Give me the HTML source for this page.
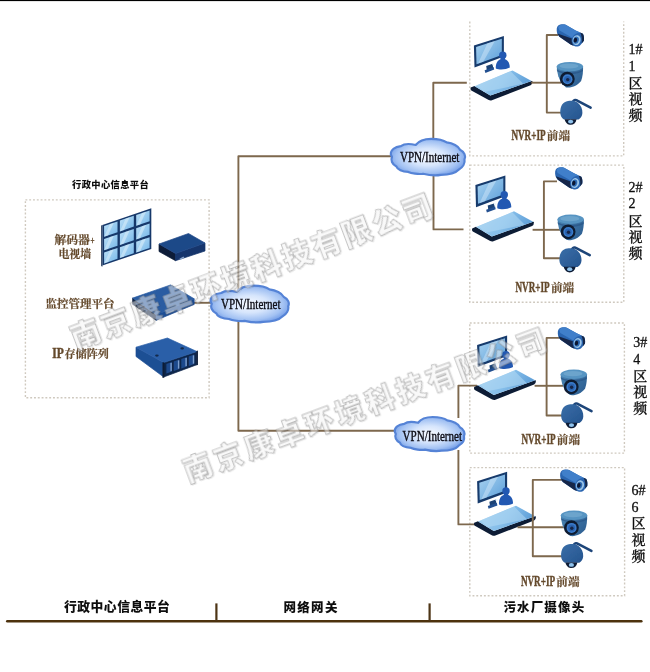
<!DOCTYPE html>
<html lang="zh-CN">
<head>
<meta charset="utf-8">
<title>视频监控系统拓扑图</title>
<style>
html,body{margin:0;padding:0;background:#fff;}
body{width:650px;height:672px;overflow:hidden;}
svg{display:block;}
.vl{font-family:"Liberation Serif","Noto Serif CJK SC",serif;font-size:14px;font-weight:500;fill:#111;stroke:#111;stroke-width:0.3px;}
.br{font-family:"Liberation Serif","Noto Serif CJK SC",serif;font-weight:700;fill:#64492c;stroke:#64492c;stroke-width:0.2px;}
.brl{font-family:"Liberation Serif",serif;font-weight:700;fill:#64492c;stroke:#64492c;stroke-width:0.45px;}
.kai{font-family:"Liberation Sans","Noto Sans CJK SC",sans-serif;font-weight:900;fill:#111;}
.hei{font-family:"Liberation Sans","Noto Sans CJK SC",sans-serif;font-weight:900;font-size:12.5px;fill:#111;}
.wm{font-family:"Liberation Sans","Noto Sans CJK SC",sans-serif;font-weight:900;fill:#ffffff;fill-opacity:0.45;stroke:#8c8c8c;stroke-opacity:0.55;stroke-width:0.9;}
</style>
</head>
<body>
<svg width="650" height="672" viewBox="0 0 650 672">
<defs>
<radialGradient id="cloudg" cx="50%" cy="50%" r="60%">
<stop offset="0" stop-color="#f7faff"/><stop offset="0.4" stop-color="#d6e5fc"/><stop offset="0.72" stop-color="#a3c2f3"/><stop offset="0.92" stop-color="#6f9ae6"/><stop offset="1" stop-color="#5a88dc"/>
</radialGradient>
<linearGradient id="screeng" x1="0" y1="0" x2="1" y2="1">
<stop offset="0" stop-color="#a9d3f1"/><stop offset="1" stop-color="#5c9fd9"/>
</linearGradient>
<linearGradient id="cellg" x1="0" y1="0" x2="1" y2="1">
<stop offset="0" stop-color="#bfe2f8"/><stop offset="1" stop-color="#74b6e8"/>
</linearGradient>
<linearGradient id="nvrg" x1="0" y1="0" x2="1" y2="0.3">
<stop offset="0" stop-color="#a5d1f1"/><stop offset="0.6" stop-color="#84bde9"/><stop offset="1" stop-color="#5f9fd8"/>
</linearGradient>
<linearGradient id="camg" x1="0" y1="0" x2="0.4" y2="1">
<stop offset="0" stop-color="#3c78b4"/><stop offset="1" stop-color="#1f4a82"/>
</linearGradient>
<linearGradient id="ptzg" x1="0" y1="0" x2="1" y2="1">
<stop offset="0" stop-color="#3a6ea8"/><stop offset="1" stop-color="#25548e"/>
</linearGradient>
<linearGradient id="domeg" x1="0" y1="0" x2="1" y2="0.6">
<stop offset="0" stop-color="#4a84b2"/><stop offset="1" stop-color="#2f6194"/>
</linearGradient>
<filter id="wmsh" x="-5%" y="-30%" width="110%" height="160%"><feDropShadow dx="0.8" dy="0.8" stdDeviation="0.7" flood-color="#000" flood-opacity="0.2"/></filter>
<filter id="soft" x="0" y="0" width="100%" height="100%" filterUnits="userSpaceOnUse"><feGaussianBlur stdDeviation="0.5"/></filter>
</defs>

<g filter="url(#soft)">
<rect x="0" y="0" width="650" height="672" fill="#ffffff"/>
<rect x="0" y="0" width="650" height="1.1" fill="#050505"/>
<rect x="25.4" y="199.9" width="183.7" height="197.9" fill="none" stroke="#cfc9bf" stroke-width="1.4" stroke-dasharray="1.9 1.9"/>
<polyline points="469.8,21.6 469.8,155.9 623.7,155.9 623.7,21.6" fill="none" stroke="#cfc9bf" stroke-width="1.4" stroke-dasharray="1.9 1.9"/>
<rect x="469.8" y="165.1" width="154.0" height="137.2" fill="none" stroke="#cfc9bf" stroke-width="1.4" stroke-dasharray="1.9 1.9"/>
<rect x="469.8" y="323.0" width="154.6" height="130.1" fill="none" stroke="#cfc9bf" stroke-width="1.4" stroke-dasharray="1.9 1.9"/>
<rect x="469.8" y="467.6" width="154.8" height="128.2" fill="none" stroke="#cfc9bf" stroke-width="1.4" stroke-dasharray="1.9 1.9"/>
<polyline points="238.4,290.0 238.4,156.2 391.0,156.2" fill="none" stroke="#7d674d" stroke-width="1.9" stroke-linejoin="round"/>
<polyline points="433.3,140.0 433.3,82.7 466.8,82.7" fill="none" stroke="#7d674d" stroke-width="1.9" stroke-linejoin="round"/>
<polyline points="433.5,174.0 433.5,229.4 463.5,229.4" fill="none" stroke="#7d674d" stroke-width="1.9" stroke-linejoin="round"/>
<polyline points="238.4,320.0 238.4,430.8 396.0,430.8" fill="none" stroke="#7d674d" stroke-width="1.9" stroke-linejoin="round"/>
<polyline points="458.4,418.0 458.4,385.6 477.0,385.6" fill="none" stroke="#7d674d" stroke-width="1.9" stroke-linejoin="round"/>
<polyline points="458.4,450.0 458.4,524.4 477.0,524.4" fill="none" stroke="#7d674d" stroke-width="1.9" stroke-linejoin="round"/>
<polyline points="194.0,302.8 212.0,302.8" fill="none" stroke="#7d674d" stroke-width="1.9" stroke-linejoin="round"/>
<polygon points="101.2,225.6 102.4,225.0 102.4,265.5 102.4,266.7 101.2,265.9" fill="#10294d" /><polygon points="102.4,225.0 151.3,208.3 151.3,249.0 102.4,265.5" fill="#18396b" /><polygon points="104.1,226.0 117.5,221.4 117.5,232.2 104.1,236.8" fill="url(#cellg)" /><polygon points="109.9,224.0 113.8,222.7 108.0,235.4 104.1,236.8" fill="#e4f3fc" opacity="0.5"/><polygon points="104.1,239.1 117.5,234.5 117.5,245.7 104.1,250.3" fill="url(#cellg)" /><polygon points="109.9,237.1 113.8,235.8 108.0,248.9 104.1,250.3" fill="#e4f3fc" opacity="0.5"/><polygon points="104.1,252.6 117.5,248.0 117.5,258.8 104.1,263.4" fill="url(#cellg)" /><polygon points="109.9,250.6 113.8,249.3 108.0,262.0 104.1,263.4" fill="#e4f3fc" opacity="0.5"/><polygon points="119.9,220.6 133.8,215.8 133.8,226.6 119.9,231.4" fill="url(#cellg)" /><polygon points="125.7,218.6 129.7,217.3 123.8,230.1 119.9,231.4" fill="#e4f3fc" opacity="0.5"/><polygon points="119.9,233.7 133.8,229.0 133.8,240.2 119.9,244.9" fill="url(#cellg)" /><polygon points="125.7,231.7 129.7,230.4 123.8,243.6 119.9,244.9" fill="#e4f3fc" opacity="0.5"/><polygon points="119.9,247.2 133.8,242.5 133.8,253.3 119.9,258.0" fill="url(#cellg)" /><polygon points="125.7,245.3 129.7,243.9 123.8,256.7 119.9,258.0" fill="#e4f3fc" opacity="0.5"/><polygon points="136.2,215.0 149.6,210.4 149.6,221.3 136.2,225.8" fill="url(#cellg)" /><polygon points="142.0,213.0 146.0,211.7 140.1,224.5 136.2,225.8" fill="#e4f3fc" opacity="0.5"/><polygon points="136.2,228.2 149.6,223.6 149.6,234.8 136.2,239.4" fill="url(#cellg)" /><polygon points="142.0,226.2 146.0,224.9 140.1,238.1 136.2,239.4" fill="#e4f3fc" opacity="0.5"/><polygon points="136.2,241.7 149.6,237.2 149.6,248.0 136.2,252.5" fill="url(#cellg)" /><polygon points="142.0,239.7 146.0,238.4 140.1,251.2 136.2,252.5" fill="#e4f3fc" opacity="0.5"/>
<polygon points="159.0,244.0 175.5,253.5 175.5,260.7 159.0,251.5" fill="#0b1b38" stroke="#0b1b38" stroke-width="0.7" stroke-linejoin="round"/><polygon points="175.5,253.5 205.0,243.0 205.0,251.0 175.5,260.7" fill="#15356c" stroke="#15356c" stroke-width="0.7" stroke-linejoin="round"/><polygon points="159.0,244.0 188.5,233.5 205.0,243.0 175.5,253.5" fill="#1f4888" stroke="#1f4888" stroke-width="0.7" stroke-linejoin="round"/>
<rect x="179.5" y="257.6" width="4.6" height="1.3" fill="#8fa9cc" transform="rotate(-30 181.8 258.2)"/>
<polygon points="132.6,298.1 156.2,314.7 156.2,320.3 132.6,304.3" fill="#0d2040" stroke="#0d2040" stroke-width="0.7" stroke-linejoin="round"/><polygon points="156.2,314.7 194.2,298.8 194.2,304.4 156.2,320.3" fill="#1f4e94" stroke="#1f4e94" stroke-width="0.7" stroke-linejoin="round"/><polygon points="132.6,298.1 170.7,284.9 194.2,298.8 156.2,314.7" fill="#2a5ca2" stroke="#2a5ca2" stroke-width="0.7" stroke-linejoin="round"/>
<rect x="136.2" y="302.7" width="3.4" height="1.5" fill="#1f4a8c" transform="rotate(34 136.2 302.7)"/>
<rect x="140.5" y="305.7" width="3.4" height="1.5" fill="#1f4a8c" transform="rotate(34 140.5 305.7)"/>
<rect x="144.7" y="308.7" width="3.4" height="1.5" fill="#1f4a8c" transform="rotate(34 144.7 308.7)"/>
<rect x="166" y="311.6" width="8" height="1.2" fill="#7fa0cc" transform="rotate(-23 170 312)"/>
<polygon points="136.0,347.2 163.7,362.6 163.7,377.0 136.0,356.5" fill="#1f4f94" stroke="#1f4f94" stroke-width="0.7" stroke-linejoin="round"/><polygon points="163.7,362.6 196.9,351.5 196.9,364.7 163.7,377.0" fill="#10274c" stroke="#10274c" stroke-width="0.7" stroke-linejoin="round"/><polygon points="136.0,347.2 167.4,338.0 196.9,351.5 163.7,362.6" fill="#2a5ea8" stroke="#2a5ea8" stroke-width="0.7" stroke-linejoin="round"/>
<polygon points="166.4,363.9 171.8,362.1 171.8,371.5 166.4,373.5" fill="#1f4a8c" />
<polygon points="170.4,363.1 171.8,362.7 171.8,370.9 170.4,371.3" fill="#7d9fce" />
<polygon points="173.8,361.4 179.3,359.6 179.3,369.0 173.8,371.0" fill="#1f4a8c" />
<polygon points="177.9,360.6 179.3,360.2 179.3,368.4 177.9,368.8" fill="#7d9fce" />
<polygon points="181.3,358.9 186.8,357.1 186.8,366.5 181.3,368.5" fill="#1f4a8c" />
<polygon points="185.4,358.1 186.8,357.7 186.8,365.9 185.4,366.3" fill="#7d9fce" />
<polygon points="188.8,356.4 194.2,354.6 194.2,364.0 188.8,366.0" fill="#1f4a8c" />
<polygon points="192.8,355.6 194.2,355.2 194.2,363.4 192.8,363.8" fill="#7d9fce" />
<polygon points="162.5,362.2 164.3,362.4 164.3,377.6 162.5,378.0" fill="#0b1a34" />
<polygon points="196.5,350.9 197.9,350.5 197.9,364.9 196.5,365.3" fill="#0b1a34" />
<ellipse cx="156.9" cy="355.6" rx="1.8" ry="1.1" fill="#12294a"/>
<ellipse cx="182.2" cy="348.4" rx="1.8" ry="1.1" fill="#12294a"/>
<g transform="translate(0.0,0.0)"><polygon points="486.2,66.0 492.6,63.8 493.4,69.2 487.0,71.6" fill="#1b4274" /><polygon points="484.6,70.2 493.6,67.0 494.2,69.6 485.4,73.0" fill="#245090" /><polygon points="473.9,45.5 503.9,35.9 503.9,56.6 474.5,67.6" fill="#173a6c" /><polygon points="476.1,47.0 501.8,38.7 501.8,54.9 476.5,64.2" fill="url(#screeng)" /><polygon points="487.4,43.3 494.9,40.9 483.3,61.7 478.0,63.6" fill="#d7ecfa" opacity="0.45"/><path d="M495.8,68.6 C495.4,63.5 497.6,60.2 500.4,59.2 L505.2,59.2 C508,60.2 509.8,63.5 509.8,67.6 C506,69.8 499.5,70.2 495.8,68.6 Z" fill="#2459b2"/><circle cx="502.8" cy="55.2" r="3.7" fill="#2459b2"/><rect x="500.6" y="57" width="4.4" height="3.4" fill="#2459b2"/><circle cx="493.4" cy="64.4" r="1.1" fill="#eaf4fc"/></g><g transform="translate(0.0,0.0)"><path d="M470.7,87.5 L474.5,85.9 L490.3,95.6 L531.6,80.9 L532.4,81.1 Q532.6,84.6 530.6,85.2 L491.9,100.3 Q490.3,100.8 488.7,100.1 L471.3,90.5 Q470.1,89.7 470.7,87.5 Z" fill="#0d1d36"/><polygon points="474.5,86.2 512.5,70.4 531.6,80.9 490.3,95.6" fill="url(#nvrg)" /><polygon points="476.8,85.3 510.6,71.2 523.3,83.8 484.0,91.9" fill="#b4daf4" opacity="0.55"/></g>
<g transform="translate(1.5,139.6)"><polygon points="486.2,66.0 492.6,63.8 493.4,69.2 487.0,71.6" fill="#1b4274" /><polygon points="484.6,70.2 493.6,67.0 494.2,69.6 485.4,73.0" fill="#245090" /><polygon points="473.9,45.5 503.9,35.9 503.9,56.6 474.5,67.6" fill="#173a6c" /><polygon points="476.1,47.0 501.8,38.7 501.8,54.9 476.5,64.2" fill="url(#screeng)" /><polygon points="487.4,43.3 494.9,40.9 483.3,61.7 478.0,63.6" fill="#d7ecfa" opacity="0.45"/><path d="M495.8,68.6 C495.4,63.5 497.6,60.2 500.4,59.2 L505.2,59.2 C508,60.2 509.8,63.5 509.8,67.6 C506,69.8 499.5,70.2 495.8,68.6 Z" fill="#2459b2"/><circle cx="502.8" cy="55.2" r="3.7" fill="#2459b2"/><rect x="500.6" y="57" width="4.4" height="3.4" fill="#2459b2"/><circle cx="493.4" cy="64.4" r="1.1" fill="#eaf4fc"/></g><g transform="translate(1.5,140.9)"><path d="M470.7,87.5 L474.5,85.9 L490.3,95.6 L531.6,80.9 L532.4,81.1 Q532.6,84.6 530.6,85.2 L491.9,100.3 Q490.3,100.8 488.7,100.1 L471.3,90.5 Q470.1,89.7 470.7,87.5 Z" fill="#0d1d36"/><polygon points="474.5,86.2 512.5,70.4 531.6,80.9 490.3,95.6" fill="url(#nvrg)" /><polygon points="476.8,85.3 510.6,71.2 523.3,83.8 484.0,91.9" fill="#b4daf4" opacity="0.55"/></g>
<g transform="translate(3.2,299.5)"><polygon points="486.2,66.0 492.6,63.8 493.4,69.2 487.0,71.6" fill="#1b4274" /><polygon points="484.6,70.2 493.6,67.0 494.2,69.6 485.4,73.0" fill="#245090" /><polygon points="473.9,45.5 503.9,35.9 503.9,56.6 474.5,67.6" fill="#173a6c" /><polygon points="476.1,47.0 501.8,38.7 501.8,54.9 476.5,64.2" fill="url(#screeng)" /><polygon points="487.4,43.3 494.9,40.9 483.3,61.7 478.0,63.6" fill="#d7ecfa" opacity="0.45"/><path d="M495.8,68.6 C495.4,63.5 497.6,60.2 500.4,59.2 L505.2,59.2 C508,60.2 509.8,63.5 509.8,67.6 C506,69.8 499.5,70.2 495.8,68.6 Z" fill="#2459b2"/><circle cx="502.8" cy="55.2" r="3.7" fill="#2459b2"/><rect x="500.6" y="57" width="4.4" height="3.4" fill="#2459b2"/><circle cx="493.4" cy="64.4" r="1.1" fill="#eaf4fc"/></g><g transform="translate(3.5,299.4)"><path d="M470.7,87.5 L474.5,85.9 L490.3,95.6 L531.6,80.9 L532.4,81.1 Q532.6,84.6 530.6,85.2 L491.9,100.3 Q490.3,100.8 488.7,100.1 L471.3,90.5 Q470.1,89.7 470.7,87.5 Z" fill="#0d1d36"/><polygon points="474.5,86.2 512.5,70.4 531.6,80.9 490.3,95.6" fill="url(#nvrg)" /><polygon points="476.8,85.3 510.6,71.2 523.3,83.8 484.0,91.9" fill="#b4daf4" opacity="0.55"/></g>
<g transform="translate(3.2,435.8)"><polygon points="486.2,66.0 492.6,63.8 493.4,69.2 487.0,71.6" fill="#1b4274" /><polygon points="484.6,70.2 493.6,67.0 494.2,69.6 485.4,73.0" fill="#245090" /><polygon points="473.9,45.5 503.9,35.9 503.9,56.6 474.5,67.6" fill="#173a6c" /><polygon points="476.1,47.0 501.8,38.7 501.8,54.9 476.5,64.2" fill="url(#screeng)" /><polygon points="487.4,43.3 494.9,40.9 483.3,61.7 478.0,63.6" fill="#d7ecfa" opacity="0.45"/><path d="M495.8,68.6 C495.4,63.5 497.6,60.2 500.4,59.2 L505.2,59.2 C508,60.2 509.8,63.5 509.8,67.6 C506,69.8 499.5,70.2 495.8,68.6 Z" fill="#2459b2"/><circle cx="502.8" cy="55.2" r="3.7" fill="#2459b2"/><rect x="500.6" y="57" width="4.4" height="3.4" fill="#2459b2"/><circle cx="493.4" cy="64.4" r="1.1" fill="#eaf4fc"/></g><g transform="translate(3.5,435.3)"><path d="M470.7,87.5 L474.5,85.9 L490.3,95.6 L531.6,80.9 L532.4,81.1 Q532.6,84.6 530.6,85.2 L491.9,100.3 Q490.3,100.8 488.7,100.1 L471.3,90.5 Q470.1,89.7 470.7,87.5 Z" fill="#0d1d36"/><polygon points="474.5,86.2 512.5,70.4 531.6,80.9 490.3,95.6" fill="url(#nvrg)" /><polygon points="476.8,85.3 510.6,71.2 523.3,83.8 484.0,91.9" fill="#b4daf4" opacity="0.55"/></g>
<polyline points="558.0,35.0 546.8,35.0 546.8,112.6 561.0,112.6" fill="none" stroke="#7d674d" stroke-width="1.9" stroke-linejoin="round"/><polyline points="531.2,82.7 561.0,82.7" fill="none" stroke="#7d674d" stroke-width="1.9" stroke-linejoin="round"/>
<polyline points="557.0,181.4 543.9,181.4 543.9,258.2 560.0,258.2" fill="none" stroke="#7d674d" stroke-width="1.9" stroke-linejoin="round"/><polyline points="532.6,229.8 561.0,229.8" fill="none" stroke="#7d674d" stroke-width="1.9" stroke-linejoin="round"/>
<polyline points="560.0,337.9 546.6,337.9 546.6,415.5 562.0,415.5" fill="none" stroke="#7d674d" stroke-width="1.9" stroke-linejoin="round"/><polyline points="534.6,385.8 563.0,385.8" fill="none" stroke="#7d674d" stroke-width="1.9" stroke-linejoin="round"/>
<polyline points="562.0,479.9 532.8,479.9 532.8,556.3 563.0,556.3" fill="none" stroke="#7d674d" stroke-width="1.9" stroke-linejoin="round"/><polyline points="517.5,527.2 565.0,527.2" fill="none" stroke="#7d674d" stroke-width="1.9" stroke-linejoin="round"/>
<g transform="translate(556.2,24.2)"><path d="M0.5,6.3 C0.3,3.5 1.5,0.8 4,0.4 C6,0 8,0 9.5,0.6 L19.4,6.2 L26.7,9.6 C27.8,11.5 28,14 27.7,16.5 L24.5,20.5 C23,22.3 21,22.6 19.4,22.3 L14.8,20.6 L3.2,12.6 C1.6,11 0.7,9 0.5,6.3 Z" fill="#2b65b0"/><path d="M2,3 C3,0.8 5,0.3 7,0.5 C8,0.5 9,0.5 9.5,0.6 L19.4,6.2 L24,8.4 C20.5,8.6 17.5,10.5 16,13.5 L3,6 Z" fill="#3f7fca"/><path d="M1.2,9.2 L3.2,12.6 L14.8,20.6 L17.5,21.6 C15.5,19 15,16.5 15.6,14.2 Z" fill="#14284a"/><path d="M24,8.4 L26.7,9.6 C27.8,11.5 28,14 27.7,16.5 L25.5,19.4 C26,15.5 25.6,11.5 24,8.4 Z" fill="#122646"/><ellipse cx="20.4" cy="15.9" rx="4" ry="5" transform="rotate(14 20.4 15.9)" fill="#9cc6e8"/><ellipse cx="19.9" cy="16" rx="2.7" ry="3.6" transform="rotate(14 19.9 16)" fill="#2d69b2"/><ellipse cx="19.2" cy="16" rx="1.7" ry="2.4" transform="rotate(14 19.2 16)" fill="#0d1830"/></g>
<g transform="translate(556.5,61.8)"><path d="M0.2,5 L0.8,10 C1.6,16 4.5,21.5 9.5,25.6 C15,26.5 21.5,23.5 24.6,19.2 C26.3,15 26.6,9.5 26.6,5 Z" fill="url(#domeg)"/><ellipse cx="13.4" cy="4.8" rx="13.2" ry="4.7" fill="#5794c2"/><ellipse cx="12.5" cy="4.2" rx="9.5" ry="2.6" fill="#7db0d6" opacity="0.55"/><path d="M0.3,7.5 C5,11.5 21,11.8 26.5,7.6 L26.4,9.2 C21,13.4 5,13.2 0.5,9.2 Z" fill="#2a5688" opacity="0.75"/><circle cx="10.8" cy="17.3" r="7.4" fill="#101b30"/><circle cx="11" cy="17.5" r="5" fill="#3a7ccc"/><circle cx="11" cy="17.5" r="3.4" fill="#2a62ae"/><circle cx="11.2" cy="17.8" r="1.7" fill="#14264a"/></g>
<g transform="translate(560.0,99.0)"><path d="M13,2.6 C14,0.6 16,0.6 17.2,1.6 L30.6,8.6" fill="none" stroke="#1f4579" stroke-width="2.6" stroke-linecap="round" stroke-linejoin="round"/><path d="M0.3,14 C0,7 3,2.6 8,2 C11,1.4 15,1.6 17.5,3.4 C21,6 22.6,10 22.4,14 C22.2,17 21,19 18.5,20.4 L4,20.4 C1.6,19 0.5,17 0.3,14 Z" fill="url(#ptzg)"/><path d="M4.6,20.2 C5.6,24.2 8,25.8 10.6,25.8 C13.6,25.8 15.8,24 16.6,20.2 Z" fill="#0f1d36"/><ellipse cx="10.6" cy="22.6" rx="2.6" ry="1.9" fill="#8fc3ee"/></g>
<g transform="translate(554.6,167.1)"><path d="M0.5,6.3 C0.3,3.5 1.5,0.8 4,0.4 C6,0 8,0 9.5,0.6 L19.4,6.2 L26.7,9.6 C27.8,11.5 28,14 27.7,16.5 L24.5,20.5 C23,22.3 21,22.6 19.4,22.3 L14.8,20.6 L3.2,12.6 C1.6,11 0.7,9 0.5,6.3 Z" fill="#2b65b0"/><path d="M2,3 C3,0.8 5,0.3 7,0.5 C8,0.5 9,0.5 9.5,0.6 L19.4,6.2 L24,8.4 C20.5,8.6 17.5,10.5 16,13.5 L3,6 Z" fill="#3f7fca"/><path d="M1.2,9.2 L3.2,12.6 L14.8,20.6 L17.5,21.6 C15.5,19 15,16.5 15.6,14.2 Z" fill="#14284a"/><path d="M24,8.4 L26.7,9.6 C27.8,11.5 28,14 27.7,16.5 L25.5,19.4 C26,15.5 25.6,11.5 24,8.4 Z" fill="#122646"/><ellipse cx="20.4" cy="15.9" rx="4" ry="5" transform="rotate(14 20.4 15.9)" fill="#9cc6e8"/><ellipse cx="19.9" cy="16" rx="2.7" ry="3.6" transform="rotate(14 19.9 16)" fill="#2d69b2"/><ellipse cx="19.2" cy="16" rx="1.7" ry="2.4" transform="rotate(14 19.2 16)" fill="#0d1830"/></g>
<g transform="translate(557.3,214.5)"><path d="M0.2,5 L0.8,10 C1.6,16 4.5,21.5 9.5,25.6 C15,26.5 21.5,23.5 24.6,19.2 C26.3,15 26.6,9.5 26.6,5 Z" fill="url(#domeg)"/><ellipse cx="13.4" cy="4.8" rx="13.2" ry="4.7" fill="#5794c2"/><ellipse cx="12.5" cy="4.2" rx="9.5" ry="2.6" fill="#7db0d6" opacity="0.55"/><path d="M0.3,7.5 C5,11.5 21,11.8 26.5,7.6 L26.4,9.2 C21,13.4 5,13.2 0.5,9.2 Z" fill="#2a5688" opacity="0.75"/><circle cx="10.8" cy="17.3" r="7.4" fill="#101b30"/><circle cx="11" cy="17.5" r="5" fill="#3a7ccc"/><circle cx="11" cy="17.5" r="3.4" fill="#2a62ae"/><circle cx="11.2" cy="17.8" r="1.7" fill="#14264a"/></g>
<g transform="translate(559.1,246.6)"><path d="M13,2.6 C14,0.6 16,0.6 17.2,1.6 L30.6,8.6" fill="none" stroke="#1f4579" stroke-width="2.6" stroke-linecap="round" stroke-linejoin="round"/><path d="M0.3,14 C0,7 3,2.6 8,2 C11,1.4 15,1.6 17.5,3.4 C21,6 22.6,10 22.4,14 C22.2,17 21,19 18.5,20.4 L4,20.4 C1.6,19 0.5,17 0.3,14 Z" fill="url(#ptzg)"/><path d="M4.6,20.2 C5.6,24.2 8,25.8 10.6,25.8 C13.6,25.8 15.8,24 16.6,20.2 Z" fill="#0f1d36"/><ellipse cx="10.6" cy="22.6" rx="2.6" ry="1.9" fill="#8fc3ee"/></g>
<g transform="translate(557.3,327.1)"><path d="M0.5,6.3 C0.3,3.5 1.5,0.8 4,0.4 C6,0 8,0 9.5,0.6 L19.4,6.2 L26.7,9.6 C27.8,11.5 28,14 27.7,16.5 L24.5,20.5 C23,22.3 21,22.6 19.4,22.3 L14.8,20.6 L3.2,12.6 C1.6,11 0.7,9 0.5,6.3 Z" fill="#2b65b0"/><path d="M2,3 C3,0.8 5,0.3 7,0.5 C8,0.5 9,0.5 9.5,0.6 L19.4,6.2 L24,8.4 C20.5,8.6 17.5,10.5 16,13.5 L3,6 Z" fill="#3f7fca"/><path d="M1.2,9.2 L3.2,12.6 L14.8,20.6 L17.5,21.6 C15.5,19 15,16.5 15.6,14.2 Z" fill="#14284a"/><path d="M24,8.4 L26.7,9.6 C27.8,11.5 28,14 27.7,16.5 L25.5,19.4 C26,15.5 25.6,11.5 24,8.4 Z" fill="#122646"/><ellipse cx="20.4" cy="15.9" rx="4" ry="5" transform="rotate(14 20.4 15.9)" fill="#9cc6e8"/><ellipse cx="19.9" cy="16" rx="2.7" ry="3.6" transform="rotate(14 19.9 16)" fill="#2d69b2"/><ellipse cx="19.2" cy="16" rx="1.7" ry="2.4" transform="rotate(14 19.2 16)" fill="#0d1830"/></g>
<g transform="translate(560.4,369.5)"><path d="M0.2,5 L0.8,10 C1.6,16 4.5,21.5 9.5,25.6 C15,26.5 21.5,23.5 24.6,19.2 C26.3,15 26.6,9.5 26.6,5 Z" fill="url(#domeg)"/><ellipse cx="13.4" cy="4.8" rx="13.2" ry="4.7" fill="#5794c2"/><ellipse cx="12.5" cy="4.2" rx="9.5" ry="2.6" fill="#7db0d6" opacity="0.55"/><path d="M0.3,7.5 C5,11.5 21,11.8 26.5,7.6 L26.4,9.2 C21,13.4 5,13.2 0.5,9.2 Z" fill="#2a5688" opacity="0.75"/><circle cx="10.8" cy="17.3" r="7.4" fill="#101b30"/><circle cx="11" cy="17.5" r="5" fill="#3a7ccc"/><circle cx="11" cy="17.5" r="3.4" fill="#2a62ae"/><circle cx="11.2" cy="17.8" r="1.7" fill="#14264a"/></g>
<g transform="translate(560.9,402.5)"><path d="M13,2.6 C14,0.6 16,0.6 17.2,1.6 L30.6,8.6" fill="none" stroke="#1f4579" stroke-width="2.6" stroke-linecap="round" stroke-linejoin="round"/><path d="M0.3,14 C0,7 3,2.6 8,2 C11,1.4 15,1.6 17.5,3.4 C21,6 22.6,10 22.4,14 C22.2,17 21,19 18.5,20.4 L4,20.4 C1.6,19 0.5,17 0.3,14 Z" fill="url(#ptzg)"/><path d="M4.6,20.2 C5.6,24.2 8,25.8 10.6,25.8 C13.6,25.8 15.8,24 16.6,20.2 Z" fill="#0f1d36"/><ellipse cx="10.6" cy="22.6" rx="2.6" ry="1.9" fill="#8fc3ee"/></g>
<g transform="translate(559.6,469.4)"><path d="M0.5,6.3 C0.3,3.5 1.5,0.8 4,0.4 C6,0 8,0 9.5,0.6 L19.4,6.2 L26.7,9.6 C27.8,11.5 28,14 27.7,16.5 L24.5,20.5 C23,22.3 21,22.6 19.4,22.3 L14.8,20.6 L3.2,12.6 C1.6,11 0.7,9 0.5,6.3 Z" fill="#2b65b0"/><path d="M2,3 C3,0.8 5,0.3 7,0.5 C8,0.5 9,0.5 9.5,0.6 L19.4,6.2 L24,8.4 C20.5,8.6 17.5,10.5 16,13.5 L3,6 Z" fill="#3f7fca"/><path d="M1.2,9.2 L3.2,12.6 L14.8,20.6 L17.5,21.6 C15.5,19 15,16.5 15.6,14.2 Z" fill="#14284a"/><path d="M24,8.4 L26.7,9.6 C27.8,11.5 28,14 27.7,16.5 L25.5,19.4 C26,15.5 25.6,11.5 24,8.4 Z" fill="#122646"/><ellipse cx="20.4" cy="15.9" rx="4" ry="5" transform="rotate(14 20.4 15.9)" fill="#9cc6e8"/><ellipse cx="19.9" cy="16" rx="2.7" ry="3.6" transform="rotate(14 19.9 16)" fill="#2d69b2"/><ellipse cx="19.2" cy="16" rx="1.7" ry="2.4" transform="rotate(14 19.2 16)" fill="#0d1830"/></g>
<g transform="translate(560.6,510.4)"><path d="M0.2,5 L0.8,10 C1.6,16 4.5,21.5 9.5,25.6 C15,26.5 21.5,23.5 24.6,19.2 C26.3,15 26.6,9.5 26.6,5 Z" fill="url(#domeg)"/><ellipse cx="13.4" cy="4.8" rx="13.2" ry="4.7" fill="#5794c2"/><ellipse cx="12.5" cy="4.2" rx="9.5" ry="2.6" fill="#7db0d6" opacity="0.55"/><path d="M0.3,7.5 C5,11.5 21,11.8 26.5,7.6 L26.4,9.2 C21,13.4 5,13.2 0.5,9.2 Z" fill="#2a5688" opacity="0.75"/><circle cx="10.8" cy="17.3" r="7.4" fill="#101b30"/><circle cx="11" cy="17.5" r="5" fill="#3a7ccc"/><circle cx="11" cy="17.5" r="3.4" fill="#2a62ae"/><circle cx="11.2" cy="17.8" r="1.7" fill="#14264a"/></g>
<g transform="translate(560.8,542.3)"><path d="M13,2.6 C14,0.6 16,0.6 17.2,1.6 L30.6,8.6" fill="none" stroke="#1f4579" stroke-width="2.6" stroke-linecap="round" stroke-linejoin="round"/><path d="M0.3,14 C0,7 3,2.6 8,2 C11,1.4 15,1.6 17.5,3.4 C21,6 22.6,10 22.4,14 C22.2,17 21,19 18.5,20.4 L4,20.4 C1.6,19 0.5,17 0.3,14 Z" fill="url(#ptzg)"/><path d="M4.6,20.2 C5.6,24.2 8,25.8 10.6,25.8 C13.6,25.8 15.8,24 16.6,20.2 Z" fill="#0f1d36"/><ellipse cx="10.6" cy="22.6" rx="2.6" ry="1.9" fill="#8fc3ee"/></g>
<g transform="translate(210.2,285.7) scale(0.7800,0.3660)"><path d="M0.5,43 C0,30 6,22 14,20 C18,14 26,13 34,17 C38,6 46,0 55,0 C64,0 72,4 76,10 C84,12 92,20 94,30 C100,36 102,48 100,56 C101,66 98,78 92,85 C88,94 78,99 68,99 C60,102 50,99 44,96 C38,98 28,95 24,91 C16,90 9,84 8,76 C2,70 0,58 2,50 Z" fill="url(#cloudg)" stroke="#5583d6" stroke-width="2.2" stroke-linejoin="round" vector-effect="non-scaling-stroke"/></g>
<g transform="translate(390.5,138.8) scale(0.7400,0.3640)"><path d="M0.5,43 C0,30 6,22 14,20 C18,14 26,13 34,17 C38,6 46,0 55,0 C64,0 72,4 76,10 C84,12 92,20 94,30 C100,36 102,48 100,56 C101,66 98,78 92,85 C88,94 78,99 68,99 C60,102 50,99 44,96 C38,98 28,95 24,91 C16,90 9,84 8,76 C2,70 0,58 2,50 Z" fill="url(#cloudg)" stroke="#5583d6" stroke-width="2.2" stroke-linejoin="round" vector-effect="non-scaling-stroke"/></g>
<g transform="translate(394.4,417.0) scale(0.6960,0.3400)"><path d="M0.5,43 C0,30 6,22 14,20 C18,14 26,13 34,17 C38,6 46,0 55,0 C64,0 72,4 76,10 C84,12 92,20 94,30 C100,36 102,48 100,56 C101,66 98,78 92,85 C88,94 78,99 68,99 C60,102 50,99 44,96 C38,98 28,95 24,91 C16,90 9,84 8,76 C2,70 0,58 2,50 Z" fill="url(#cloudg)" stroke="#5583d6" stroke-width="2.2" stroke-linejoin="round" vector-effect="non-scaling-stroke"/></g>
<text x="221.0" y="308.7" font-family="'Liberation Serif', serif" font-size="14.5" textLength="59.5" lengthAdjust="spacingAndGlyphs" fill="#0b0b14" stroke="#0b0b14" stroke-width="0.4">VPN/Internet</text>
<text x="400.0" y="161.7" font-family="'Liberation Serif', serif" font-size="14.5" textLength="59.4" lengthAdjust="spacingAndGlyphs" fill="#0b0b14" stroke="#0b0b14" stroke-width="0.4">VPN/Internet</text>
<text x="402.6" y="440.9" font-family="'Liberation Serif', serif" font-size="14.5" textLength="59.4" lengthAdjust="spacingAndGlyphs" fill="#0b0b14" stroke="#0b0b14" stroke-width="0.4">VPN/Internet</text>
<text x="72" y="188.0" class="kai" font-size="9.3" textLength="76.8" lengthAdjust="spacing">行政中心信息平台</text>
<text x="54.5" y="244.2" class="br" font-size="11.4" textLength="35.3" lengthAdjust="spacingAndGlyphs">解码器</text>
<text x="90.4" y="244.0" class="brl" font-size="11.0" textLength="4.0" lengthAdjust="spacingAndGlyphs">+</text>
<text x="58.5" y="257.9" class="br" font-size="11.0" textLength="32.6" lengthAdjust="spacingAndGlyphs">电视墙</text>
<text x="45.5" y="307.7" class="br" font-size="11.0" textLength="69.0" lengthAdjust="spacingAndGlyphs">监控管理平台</text>
<text x="52.3" y="357.9" class="brl" font-size="13.6" textLength="11.5" lengthAdjust="spacingAndGlyphs">IP</text>
<text x="64.6" y="357.7" class="br" font-size="11.0" textLength="44.3" lengthAdjust="spacingAndGlyphs">存储阵列</text>
<text x="511.4" y="140.4" class="brl" font-size="15.0" textLength="34.2" lengthAdjust="spacingAndGlyphs">NVR+IP</text><text x="546.8" y="140.1" class="br" font-size="11.0" textLength="23.2" lengthAdjust="spacingAndGlyphs">前端</text>
<text x="515.5" y="292.0" class="brl" font-size="15.0" textLength="34.2" lengthAdjust="spacingAndGlyphs">NVR+IP</text><text x="550.9" y="291.7" class="br" font-size="11.0" textLength="23.2" lengthAdjust="spacingAndGlyphs">前端</text>
<text x="521.4" y="444.2" class="brl" font-size="15.0" textLength="34.2" lengthAdjust="spacingAndGlyphs">NVR+IP</text><text x="556.8" y="443.9" class="br" font-size="11.0" textLength="23.2" lengthAdjust="spacingAndGlyphs">前端</text>
<text x="520.9" y="585.8" class="brl" font-size="15.0" textLength="34.2" lengthAdjust="spacingAndGlyphs">NVR+IP</text><text x="556.3" y="585.5" class="br" font-size="11.0" textLength="23.2" lengthAdjust="spacingAndGlyphs">前端</text>
<text x="628.6" y="54.2" class="vl">1#</text><text x="628.6" y="71.2" class="vl">1</text><text x="628.6" y="88.2" class="vl">区</text><text x="628.6" y="104.0" class="vl">视</text><text x="628.6" y="120.0" class="vl">频</text>
<text x="628.5" y="191.8" class="vl">2#</text><text x="628.5" y="208.4" class="vl">2</text><text x="628.5" y="225.6" class="vl">区</text><text x="628.5" y="242.0" class="vl">视</text><text x="628.5" y="258.0" class="vl">频</text>
<text x="633.2" y="347.0" class="vl">3#</text><text x="633.2" y="364.0" class="vl">4</text><text x="633.2" y="380.6" class="vl">区</text><text x="633.2" y="396.9" class="vl">视</text><text x="633.2" y="413.4" class="vl">频</text>
<text x="631.4" y="494.6" class="vl">6#</text><text x="631.4" y="511.6" class="vl">6</text><text x="631.4" y="527.8" class="vl">区</text><text x="631.4" y="544.7" class="vl">视</text><text x="631.4" y="561.1" class="vl">频</text>
<rect x="6" y="620.0" width="636.6" height="2.6" rx="1.3" fill="#4d3210"/>
<rect x="215.3" y="603.4" width="2.2" height="18" fill="#4d3414"/>
<rect x="428.5" y="603.4" width="2.2" height="18" fill="#4d3414"/>
<text x="64" y="610.6" class="kai" font-size="12.8" textLength="105.8" lengthAdjust="spacing">行政中心信息平台</text>
<text x="283.6" y="612.2" class="hei" textLength="53.8" lengthAdjust="spacing">网络网关</text>
<text x="503.4" y="612.2" class="hei" textLength="80.8" lengthAdjust="spacing">污水厂摄像头</text>
<g transform="translate(85.5,333.5) rotate(-20.60)"><text x="-15.0" y="10.8" class="wm" filter="url(#wmsh)" font-size="30.0" textLength="383.9" lengthAdjust="spacing">南京康卓环境科技有限公司</text></g>
<g transform="translate(198.3,468.6) rotate(-20.44)"><text x="-14.5" y="10.4" class="wm" filter="url(#wmsh)" font-size="29.0" textLength="385.0" lengthAdjust="spacing">南京康卓环境科技有限公司</text></g>
</g>
</svg>
</body>
</html>
